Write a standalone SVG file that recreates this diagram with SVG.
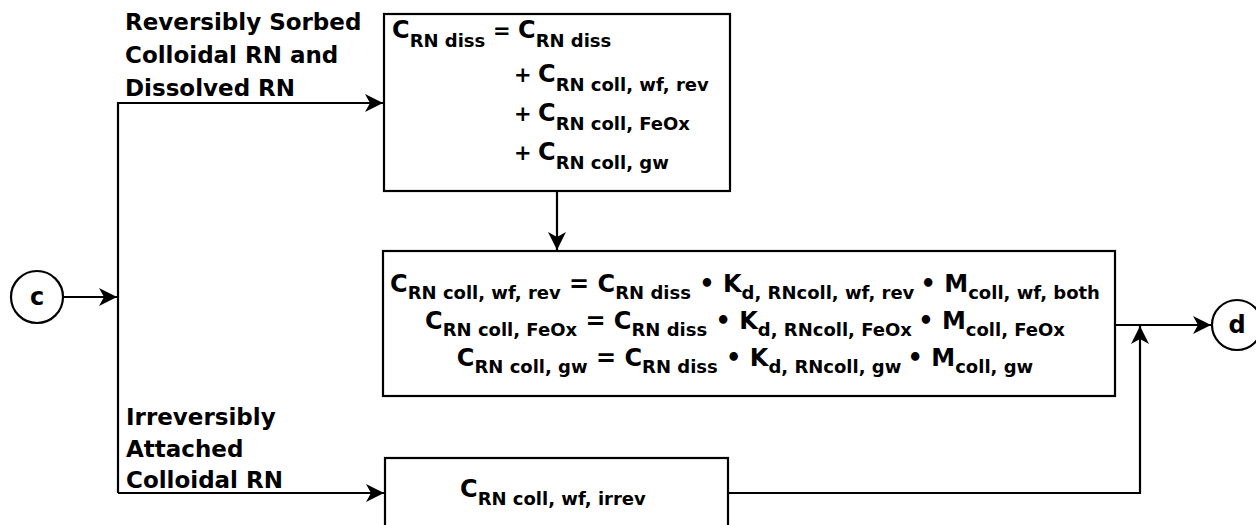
<svg xmlns="http://www.w3.org/2000/svg" width="1256" height="525" viewBox="0 0 1256 525">
<style>
.bx{fill:#fff;stroke:#000;stroke-width:2.2}
.ln{fill:none;stroke:#000;stroke-width:2.2}
.t{font-family:"DejaVu Sans","Liberation Sans",sans-serif;font-weight:bold;fill:#000}
.lb{font-size:23px}
.m{font-size:24px}
.s{font-size:18px}
.op{font-size:21px}
</style>
<defs>
<marker id="ah" markerUnits="userSpaceOnUse" markerWidth="20" markerHeight="20" refX="18" refY="9" orient="auto">
<path d="M0,0 L18,9 L0,18 L5,9 z" fill="#000"/>
</marker>
</defs>
<rect width="1256" height="525" fill="#fff"/>
<g id="connectors">
<line class="ln" x1="63" y1="297" x2="117" y2="297" marker-end="url(#ah)"/>
<polyline class="ln" points="118,493 118,103 383,103" marker-end="url(#ah)"/>
<line class="ln" x1="118" y1="493" x2="384" y2="493" marker-end="url(#ah)"/>
<line class="ln" x1="557" y1="191" x2="557" y2="250" marker-end="url(#ah)"/>
<polyline class="ln" points="728,493 1140,493 1140,326" marker-end="url(#ah)"/>
<line class="ln" x1="1115" y1="325" x2="1211" y2="325" marker-end="url(#ah)"/>
</g>
<g id="label-reversible" class="t lb">
<text x="125" y="30">Reversibly Sorbed</text>
<text x="125" y="63">Colloidal RN and</text>
<text x="125" y="96">Dissolved RN</text>
</g>
<g id="label-irreversible" class="t lb">
<text x="126" y="425">Irreversibly</text>
<text x="126" y="457">Attached</text>
<text x="126" y="488">Colloidal RN</text>
</g>
<g id="node-c">
<circle cx="37" cy="297" r="26" class="bx"/>
<text x="37" y="305" class="t m" text-anchor="middle">c</text>
</g>
<g id="node-d">
<circle cx="1237" cy="325" r="25" class="bx"/>
<text x="1237" y="333" class="t m" text-anchor="middle">d</text>
</g>
<g id="box-dissolved">
<rect x="384" y="14" width="346" height="177" class="bx"/>
<text class="t m" x="392" y="38">C<tspan class="s" dy="9">RN diss</tspan><tspan class="op" x="493" dy="-9">=</tspan><tspan x="518">C</tspan><tspan class="s" dy="9">RN diss</tspan></text>
<text class="t m" x="514" y="82"><tspan class="op">+</tspan><tspan x="538">C</tspan><tspan class="s" dy="9">RN coll, wf, rev</tspan></text>
<text class="t m" x="514" y="121"><tspan class="op">+</tspan><tspan x="538">C</tspan><tspan class="s" dy="9">RN coll, FeOx</tspan></text>
<text class="t m" x="514" y="160"><tspan class="op">+</tspan><tspan x="538">C</tspan><tspan class="s" dy="9">RN coll, gw</tspan></text>
</g>
<g id="box-reversible">
<rect x="383" y="251" width="732" height="145" class="bx"/>
<text class="t m" x="745" y="292" text-anchor="middle">C<tspan class="s" dy="7">RN coll, wf, rev</tspan><tspan dy="-7"> = C</tspan><tspan class="s" dy="7">RN diss</tspan><tspan dy="-7"> • K</tspan><tspan class="s" dy="7">d, RNcoll, wf, rev </tspan><tspan dy="-7"> • M</tspan><tspan class="s" dy="7">coll, wf, both</tspan></text>
<text class="t m" x="745" y="329" text-anchor="middle">C<tspan class="s" dy="7">RN coll, FeOx</tspan><tspan dy="-7"> = C</tspan><tspan class="s" dy="7">RN diss</tspan><tspan dy="-7"> • K</tspan><tspan class="s" dy="7">d, RNcoll, FeOx </tspan><tspan dy="-7"> • M</tspan><tspan class="s" dy="7">coll, FeOx</tspan></text>
<text class="t m" x="745" y="366" text-anchor="middle">C<tspan class="s" dy="7">RN coll, gw</tspan><tspan dy="-7"> = C</tspan><tspan class="s" dy="7">RN diss</tspan><tspan dy="-7"> • K</tspan><tspan class="s" dy="7">d, RNcoll, gw </tspan><tspan dy="-7"> • M</tspan><tspan class="s" dy="7">coll, gw</tspan></text>
</g>
<g id="box-irreversible">
<rect x="385" y="458" width="343" height="80" class="bx"/>
<text class="t m" x="460" y="497">C<tspan class="s" dy="8">RN coll, wf, irrev</tspan></text>
</g>
</svg>
